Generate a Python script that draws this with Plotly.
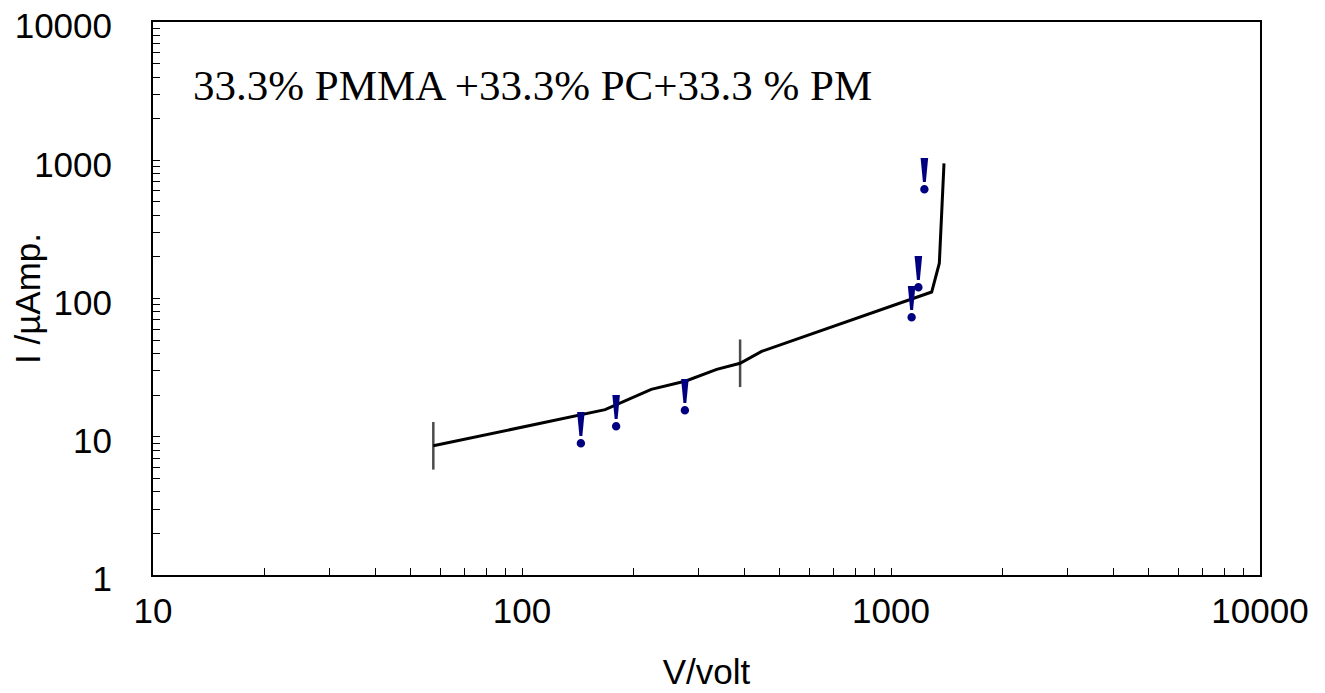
import plotly.graph_objects as go

# Main I-V curve
volt = [57.5, 168, 224, 278, 337, 390, 446, 1289, 1352, 1392]
current = [8.6, 15.7, 22.0, 25.3, 30.7, 34.0, 41.4, 111.4, 180, 950]
marker_pts = ["line-ns", None, None, None, None, "line-ns", None, None, None, None]

# "!" marks
mark_v = [144.5, 180, 276.5, 1138, 1186, 1231]
mark_i = [10.5, 14.0, 18.1, 86, 141, 720]

title_text = "33.3% PMMA +33.3% PC+33.3 % PM"

sym = [s if s else "line-ns" for s in marker_pts]
sizes = [34 if s else 0 for s in marker_pts]

fig = go.Figure()
fig.add_trace(go.Scatter(
    x=volt, y=current, mode="lines+markers",
    line=dict(color="black", width=3),
    marker=dict(symbol=sym, size=sizes, color="black",
                line=dict(color="black", width=2.5)),
    showlegend=False, hoverinfo="skip"))
fig.add_trace(go.Scatter(
    x=mark_v, y=mark_i, mode="text", text=["!"] * len(mark_v),
    textposition="middle center",
    textfont=dict(family="Liberation Serif", size=52, color="#000080", weight="bold"),
    showlegend=False, hoverinfo="skip"))

fig.add_annotation(x=0.034, y=0.885, xref="paper", yref="paper", xanchor="left", yanchor="middle",
                   text=title_text, showarrow=False,
                   font=dict(family="Liberation Serif", size=43, color="black"))

axis_common = dict(
    type="log", showgrid=False, zeroline=False, automargin=False,
    showline=True, linecolor="black", linewidth=2, mirror=True,
    ticks="inside", ticklen=7, tickwidth=1, tickcolor="black",
    dtick=1, ticklabeloverflow="allow",
    minor=dict(ticks="inside", ticklen=7, tickwidth=1, tickcolor="black", dtick="D1", showgrid=False),
    tickfont=dict(family="Liberation Sans", size=35, color="black"),
    title_font=dict(family="Liberation Sans", size=35, color="black"),
)

fig.update_xaxes(**axis_common, range=[1, 4], title_text="V/volt",
                 tickvals=[10, 100, 1000, 10000], ticktext=["10", "100", "1000", "10000"],
                 ticklabelstandoff=4, title_standoff=30)
fig.update_yaxes(**axis_common, range=[0, 4], title_text="I /µAmp.",
                 tickvals=[1, 10, 100, 1000, 10000], ticktext=["1", "10", "100", "1000", "10000"],
                 ticklabelstandoff=32, ticklabelshift=4, title_standoff=5)

# page body has an 8px default margin; margins compensate for that offset
fig.update_layout(
    width=1325, height=693,
    margin=dict(l=145, r=73, t=14, b=126),
    paper_bgcolor="white", plot_bgcolor="white",
)

fig.write_html("out.html")
